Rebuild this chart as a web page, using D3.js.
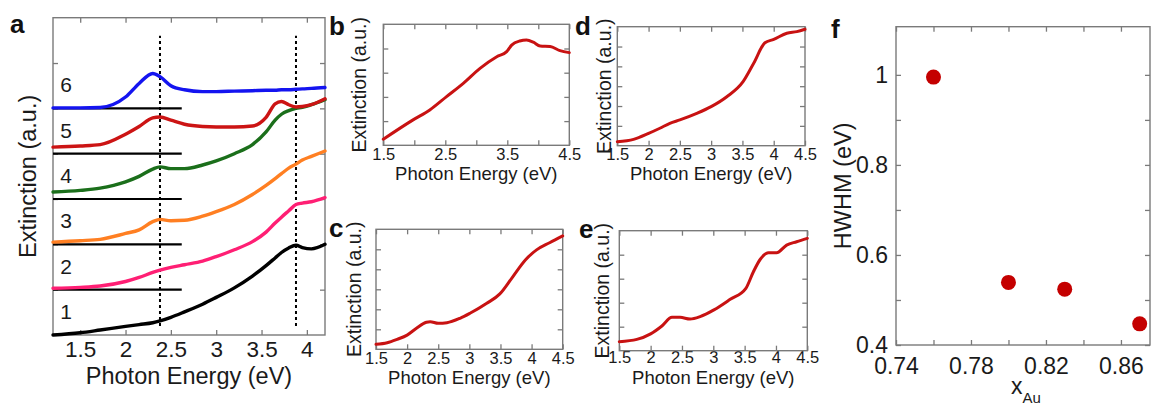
<!DOCTYPE html>
<html><head><meta charset="utf-8">
<script src="https://cdn.jsdelivr.net/npm/d3@7"></script>
<style>
html,body{margin:0;padding:0;background:#fff;}
svg{display:block;font-family:"Liberation Sans",Arial,Helvetica,sans-serif;}
</style></head><body>
<svg id="chart" width="1151" height="405"></svg>
<script>
// ---------------- data ----------------
// panel a: stacked extinction spectra (arbitrary units, offset by 1 each)
const energyA = [1.2,1.5,1.72,2.0,2.15,2.3,2.38,2.5,2.65,2.85,3.0,3.2,3.4,3.55,3.65,3.72,3.8,3.88,3.95,4.05,4.2];
const spec1 = [0.00,0.05,0.11,0.19,0.23,0.27,0.31,0.39,0.51,0.68,0.83,1.04,1.30,1.53,1.70,1.82,1.92,1.98,1.93,1.90,2.00];
const spec2 = [1.03,1.05,1.08,1.18,1.27,1.38,1.43,1.49,1.55,1.63,1.73,1.88,2.06,2.27,2.47,2.60,2.74,2.88,2.91,2.94,3.03];
const spec3 = [2.05,2.08,2.11,2.24,2.32,2.50,2.55,2.52,2.53,2.62,2.72,2.88,3.10,3.30,3.45,3.56,3.68,3.77,3.86,3.94,4.06];
const spec4 = [3.155,3.19,3.24,3.38,3.50,3.66,3.71,3.67,3.67,3.75,3.84,4.00,4.20,4.48,4.74,4.87,4.95,5.00,5.02,5.08,5.19];
const spec5 = [4.145,4.17,4.20,4.43,4.60,4.79,4.81,4.74,4.65,4.60,4.59,4.59,4.61,4.80,5.10,5.15,5.08,5.03,5.04,5.08,5.21];
const spec6 = [5.01,5.01,5.02,5.25,5.55,5.77,5.70,5.50,5.41,5.37,5.37,5.38,5.39,5.40,5.40,5.41,5.41,5.42,5.43,5.44,5.46];
const sampleLabels = ["1","2","3","4","5","6"];
const baselineLevels = [1,2,3,4,5];
const baselineEnd = 2.62;
const dottedEnergies = [2.38, 3.88];
const ticksA = [1.5,2,2.5,3,3.5,4];
const yTicksA = [1,2,3,4,5,6];

// panel b
const energyB = [1.5,1.98,2.25,2.52,2.79,3.06,3.33,3.49,3.57,3.70,3.81,3.92,4.03,4.19,4.35,4.5];
const extB    = [0.25,1.05,1.46,2.01,2.56,3.18,3.66,3.87,4.14,4.31,4.35,4.26,4.10,4.08,3.91,3.83];
// panel c
const energyC = [1.5,1.68,1.84,2.0,2.15,2.31,2.37,2.5,2.64,2.85,3.01,3.28,3.49,3.68,3.9,4.08,4.29,4.5];
const extC    = [0.25,0.33,0.50,0.71,1.05,1.35,1.38,1.30,1.33,1.55,1.80,2.30,2.77,3.55,4.47,4.97,5.33,5.67];
// panel d
const energyD = [1.5,1.76,2.0,2.18,2.34,2.5,2.77,3.0,3.25,3.51,3.68,3.86,4.0,4.21,4.37,4.5];
const extD    = [0.20,0.32,0.62,0.88,1.13,1.30,1.63,1.97,2.47,3.23,4.16,5.19,5.36,5.67,5.75,5.87];
// panel e
const energyE = [1.5,1.78,2.0,2.18,2.34,2.47,2.63,2.79,3.01,3.27,3.52,3.64,3.75,3.88,4.01,4.17,4.33,4.5];
const extE    = [0.375,0.47,0.70,1.03,1.39,1.39,1.32,1.42,1.70,2.14,2.60,3.29,3.81,4.08,4.08,4.40,4.54,4.68];
const ticksSmall = [1.5,2,2.5,3,3.5,4,4.5];
const labelsB = [1.5,2.5,3.5,4.5];
const labelsCDE = [1.5,2,2.5,3,3.5,4,4.5];

// panel f
const xAu  = [0.76,0.80,0.83,0.87];
const hwhm = [0.995,0.539,0.524,0.447];
const ticksFx  = [0.74,0.76,0.78,0.80,0.82,0.84,0.86];
const labelsFx = [0.74,0.78,0.82,0.86];
const ticksFy  = [0.4,0.5,0.6,0.7,0.8,0.9,1.0];
const labelsFy = [0.4,0.6,0.8,1.0];

// ---------------- drawing ----------------
const svg = d3.select("#chart");
const FRAME = "#7a7a7a", TXT = "#1a1a1a", RED = "#c81212";

function has(arr, v){ return arr.some(a => Math.abs(a - v) < 1e-9); }

function panel(cfg){
  const g = svg.append("g");
  const x = d3.scaleLinear().domain(cfg.xDomain).range([cfg.left, cfg.right]);
  const y = d3.scaleLinear().domain(cfg.yDomain).range([cfg.bottom, cfg.top]);
  const t = cfg.tick || 5;
  const fmt = v => has(cfg.xLabels, v) ? String(+v.toFixed(2)) : "";
  g.append("g").attr("transform",`translate(0,${cfg.bottom})`)
    .call(d3.axisBottom(x).tickValues(cfg.xTicks).tickSizeInner(-t).tickSizeOuter(0).tickPadding(cfg.xPad).tickFormat(fmt));
  g.append("g").attr("transform",`translate(0,${cfg.top})`)
    .call(d3.axisTop(x).tickValues(cfg.xTicks).tickSizeInner(-t).tickSizeOuter(0).tickFormat(""));
  g.append("g").attr("transform",`translate(${cfg.left},0)`)
    .call(d3.axisLeft(y).tickValues(cfg.yTicks).tickSizeInner(-t).tickSizeOuter(0).tickPadding(cfg.yPad||8)
      .tickFormat(v => cfg.yLabels && has(cfg.yLabels, v) ? String(+v.toFixed(2)) : ""));
  g.append("g").attr("transform",`translate(${cfg.right},0)`)
    .call(d3.axisRight(y).tickValues(cfg.yTicks).tickSizeInner(-t).tickSizeOuter(0).tickFormat(""));
  g.selectAll(".domain").remove();
  g.selectAll(".tick line").attr("stroke", FRAME).attr("stroke-width", 1.3);
  g.selectAll(".tick text").attr("font-size", cfg.tickFont).attr("fill", TXT)
    .attr("font-family", '"Liberation Sans",Arial,sans-serif');
  g.append("rect").attr("x", cfg.left).attr("y", cfg.top)
    .attr("width", cfg.right - cfg.left).attr("height", cfg.bottom - cfg.top)
    .attr("fill","none").attr("stroke", FRAME).attr("stroke-width", 1.4);
  if (cfg.xTitle) {
    g.append("text").attr("x", (cfg.left + cfg.right)/2).attr("y", cfg.xTitleY)
      .attr("text-anchor","middle").attr("font-size", cfg.titleFont).attr("fill", TXT).text(cfg.xTitle);
  }
  if (cfg.yTitle) {
    g.append("text").attr("transform",`translate(${cfg.yTitleX},${(cfg.top+cfg.bottom)/2}) rotate(-90)`)
      .attr("text-anchor","middle").attr("font-size", cfg.yTitleFont || cfg.titleFont).attr("fill", TXT).text(cfg.yTitle);
  }
  g.append("text").attr("x", cfg.letterX).attr("y", cfg.letterY)
    .attr("font-size", 26).attr("font-weight","bold").attr("fill", "#111").text(cfg.letter);
  return {g, x, y};
}

// ----- panel a -----
const A = panel({left:53, right:325, top:17.7, bottom:335, xDomain:[1.2,4.2], yDomain:[0,7],
  xTicks:ticksA, xLabels:ticksA, yTicks:yTicksA, xPad:6, tickFont:22.5, titleFont:23.5,
  xTitle:"Photon Energy (eV)", xTitleY:384, yTitle:"Extinction (a.u.)", yTitleX:36,
  letter:"a", letterX:10, letterY:33});
const colorsA = ["#000000","#ff1f74","#ff7f22","#1b6f1b","#cc1414","#1414f0"];
const specs = [spec1,spec2,spec3,spec4,spec5,spec6];
A.g.selectAll(".dot").data(dottedEnergies).enter().append("line")
  .attr("x1", d => A.x(d)).attr("x2", d => A.x(d))
  .attr("y1", A.y(0.2)).attr("y2", A.y(6.6))
  .attr("stroke","#000").attr("stroke-width",2).attr("stroke-dasharray","3,3");
A.g.selectAll(".bl").data(baselineLevels).enter().append("line")
  .attr("x1", A.x(1.2)).attr("x2", A.x(baselineEnd))
  .attr("y1", d => A.y(d)).attr("y2", d => A.y(d))
  .attr("stroke","#000").attr("stroke-width",2.2);
const lineA = d3.line().x(d => A.x(d[0])).y(d => A.y(d[1])).curve(d3.curveMonotoneX);
specs.forEach((s,i) => {
  A.g.append("path").attr("d", lineA(energyA.map((e,j) => [e, s[j]])))
    .attr("fill","none").attr("stroke", colorsA[i]).attr("stroke-width",3.4)
    .attr("stroke-linejoin","round").attr("stroke-linecap","round");
});
A.g.selectAll(".num").data(sampleLabels).enter().append("text")
  .attr("x", A.x(1.2) + 13).attr("y", (d,i) => A.y(i) - 16)
  .attr("text-anchor","middle").attr("font-size",21).attr("fill",TXT).text(d => d);

// ----- panels b-e -----
function smallPanel(cfg, ex, ey){
  const P = panel(Object.assign({xDomain:[1.5,4.5], xTicks:ticksSmall, tickFont:16.5, titleFont:18.5, yTitleFont:19.5,
    xTitle:"Photon Energy (eV)", yTitle:"Extinction (a.u.)"}, cfg));
  const ln = d3.line().x(d => P.x(d[0])).y(d => P.y(d[1])).curve(d3.curveMonotoneX);
  P.g.append("path").attr("d", ln(ex.map((e,j) => [e, ey[j]])))
    .attr("fill","none").attr("stroke", RED).attr("stroke-width",3)
    .attr("stroke-linejoin","round").attr("stroke-linecap","round");
  return P;
}
smallPanel({left:383.3, right:569.3, top:24.3, bottom:145.3, yDomain:[0,5], yTicks:[1,2,3,4],
  xLabels:labelsB, xPad:2.5, xTitleY:179.8, yTitleX:366, letter:"b", letterX:329, letterY:35}, energyB, extB);
smallPanel({left:376, right:562.7, top:229.3, bottom:349.3, yDomain:[0,6], yTicks:[1,2,3,4,5],
  xLabels:labelsCDE, xPad:2.5, xTitleY:383.8, yTitleX:361, letter:"c", letterX:329, letterY:237}, energyC, extC);
smallPanel({left:617.3, right:805, top:26.7, bottom:145.7, yDomain:[0,6], yTicks:[1,2,3,4,5],
  xLabels:labelsCDE, xPad:2.5, xTitleY:180.2, yTitleX:611, letter:"d", letterX:575, letterY:35}, energyD, extD);
smallPanel({left:619.3, right:807.3, top:230.7, bottom:350.7, yDomain:[0,5], yTicks:[1,2,3,4],
  xLabels:labelsCDE, xPad:1, xTitleY:383.8, yTitleX:609, letter:"e", letterX:579, letterY:238}, energyE, extE);

// ----- panel f -----
const F = panel({left:896, right:1150, top:26.7, bottom:345, xDomain:[0.74, 0.8755], yDomain:[0.4, 1.107],
  xTicks:ticksFx, xLabels:labelsFx, yTicks:ticksFy, yLabels:labelsFy, xPad:12.5, yPad:8,
  tickFont:23, titleFont:23.5, yTitle:"HWHM (eV)", yTitleX:851,
  letter:"f", letterX:831, letterY:38});
F.g.selectAll("circle").data(xAu).enter().append("circle")
  .attr("cx", d => F.x(d)).attr("cy", (d,i) => F.y(hwhm[i])).attr("r", 7.5)
  .attr("fill", "#c40000");
const xt = F.g.append("text").attr("x", 1011).attr("y", 394)
  .attr("text-anchor","start").attr("font-size",23).attr("fill",TXT);
xt.append("tspan").text("x");
xt.append("tspan").attr("dy", 9).attr("font-size", 15).text("Au");
</script>
</body></html>
